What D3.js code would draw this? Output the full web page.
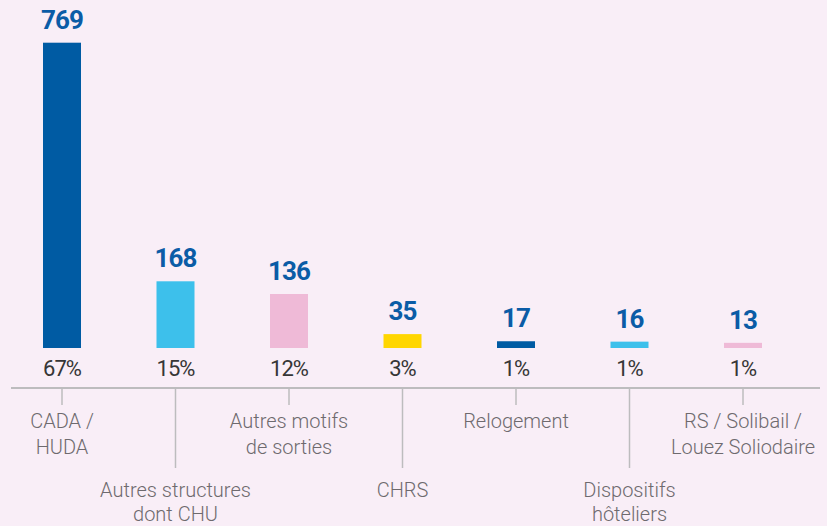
<!DOCTYPE html>
<html>
<head>
<meta charset="utf-8">
<script src="https://cdn.jsdelivr.net/npm/d3@7"></script>
<style>
  html, body { margin: 0; padding: 0; background: #f9eef7; }
  svg { display: block; }
</style>
</head>
<body>
<svg id="chart" width="827" height="526"></svg>
<script>
const categories = ["CADA / HUDA", "Autres structures dont CHU", "Autres motifs de sorties", "CHRS", "Relogement", "Dispositifs hôteliers", "RS / Solibail / Louez Soliodaire"];
const labelLines = [["CADA /", "HUDA"], ["Autres structures", "dont CHU"], ["Autres motifs", "de sorties"], ["CHRS"], ["Relogement"], ["Dispositifs", "hôteliers"], ["RS / Solibail /", "Louez Soliodaire"]];
const values = [769, 168, 136, 35, 17, 16, 13];
const percents = ["67%", "15%", "12%", "3%", "1%", "1%", "1%"];
const palette = ["#005ba3", "#3dc0eb", "#efbad7", "#ffd600", "#005ba3", "#3dc0eb", "#efbad7"];

const svg = d3.select("#chart");
const W = 827, H = 526;
svg.append("rect").attr("width", W).attr("height", H).attr("fill", "#f9eef7");

const baseY = 348;
const x = d3.scalePoint().domain(categories).range([62, 743]);
const y = d3.scaleLinear().domain([0, 769]).range([baseY, 42.7]);
const barW = 38;

const g = svg.append("g");

// bars
g.selectAll("rect.bar").data(categories).join("rect")
  .attr("class", "bar")
  .attr("x", d => x(d) - barW / 2)
  .attr("width", barW)
  .attr("y", (d, i) => y(values[i]))
  .attr("height", (d, i) => baseY - y(values[i]))
  .attr("fill", (d, i) => palette[i]);

// value labels
g.selectAll("text.val").data(categories).join("text")
  .attr("class", "val")
  .attr("x", d => x(d))
  .attr("y", (d, i) => y(values[i]) - 14)
  .attr("text-anchor", "middle")
  .attr("font-family", "Roboto, 'Open Sans', sans-serif")
  .attr("font-weight", 700)
  .attr("font-size", 26)
  .attr("letter-spacing", -1)
  .attr("fill", "#0b5ca6")
  .text((d, i) => values[i]);

// percent labels
g.selectAll("text.pct").data(categories).join("text")
  .attr("class", "pct")
  .attr("x", d => x(d))
  .attr("y", 375.5)
  .attr("text-anchor", "middle")
  .attr("font-family", "Roboto, 'Open Sans', sans-serif")
  .attr("font-weight", 400)
  .attr("font-size", 22)
  .attr("letter-spacing", -1)
  .attr("fill", "#363636")
  .text((d, i) => percents[i]);

// axis line
svg.append("line")
  .attr("x1", 11).attr("x2", 820)
  .attr("y1", 388).attr("y2", 388)
  .attr("stroke", "#bdbcbe").attr("stroke-width", 2);

// ticks and category labels
const axisG = svg.append("g");
categories.forEach((c, i) => {
  const long = i % 2 === 1;
  axisG.append("line")
    .attr("x1", x(c)).attr("x2", x(c))
    .attr("y1", 389).attr("y2", long ? 468 : 405)
    .attr("stroke", "#bdbcbe").attr("stroke-width", 1.5);
  const t = axisG.append("text")
    .attr("text-anchor", "middle")
    .attr("font-family", "Roboto, 'Open Sans', sans-serif")
    .attr("font-weight", 300)
    .attr("font-size", 20)
    .attr("fill", "#6e6a6e");
  const y0 = long ? 497 : 428;
  labelLines[i].forEach((line, j) => {
    t.append("tspan").attr("x", x(c)).attr("y", y0 + j * (long ? 24 : 26)).text(line);
  });
});
</script>
</body>
</html>
